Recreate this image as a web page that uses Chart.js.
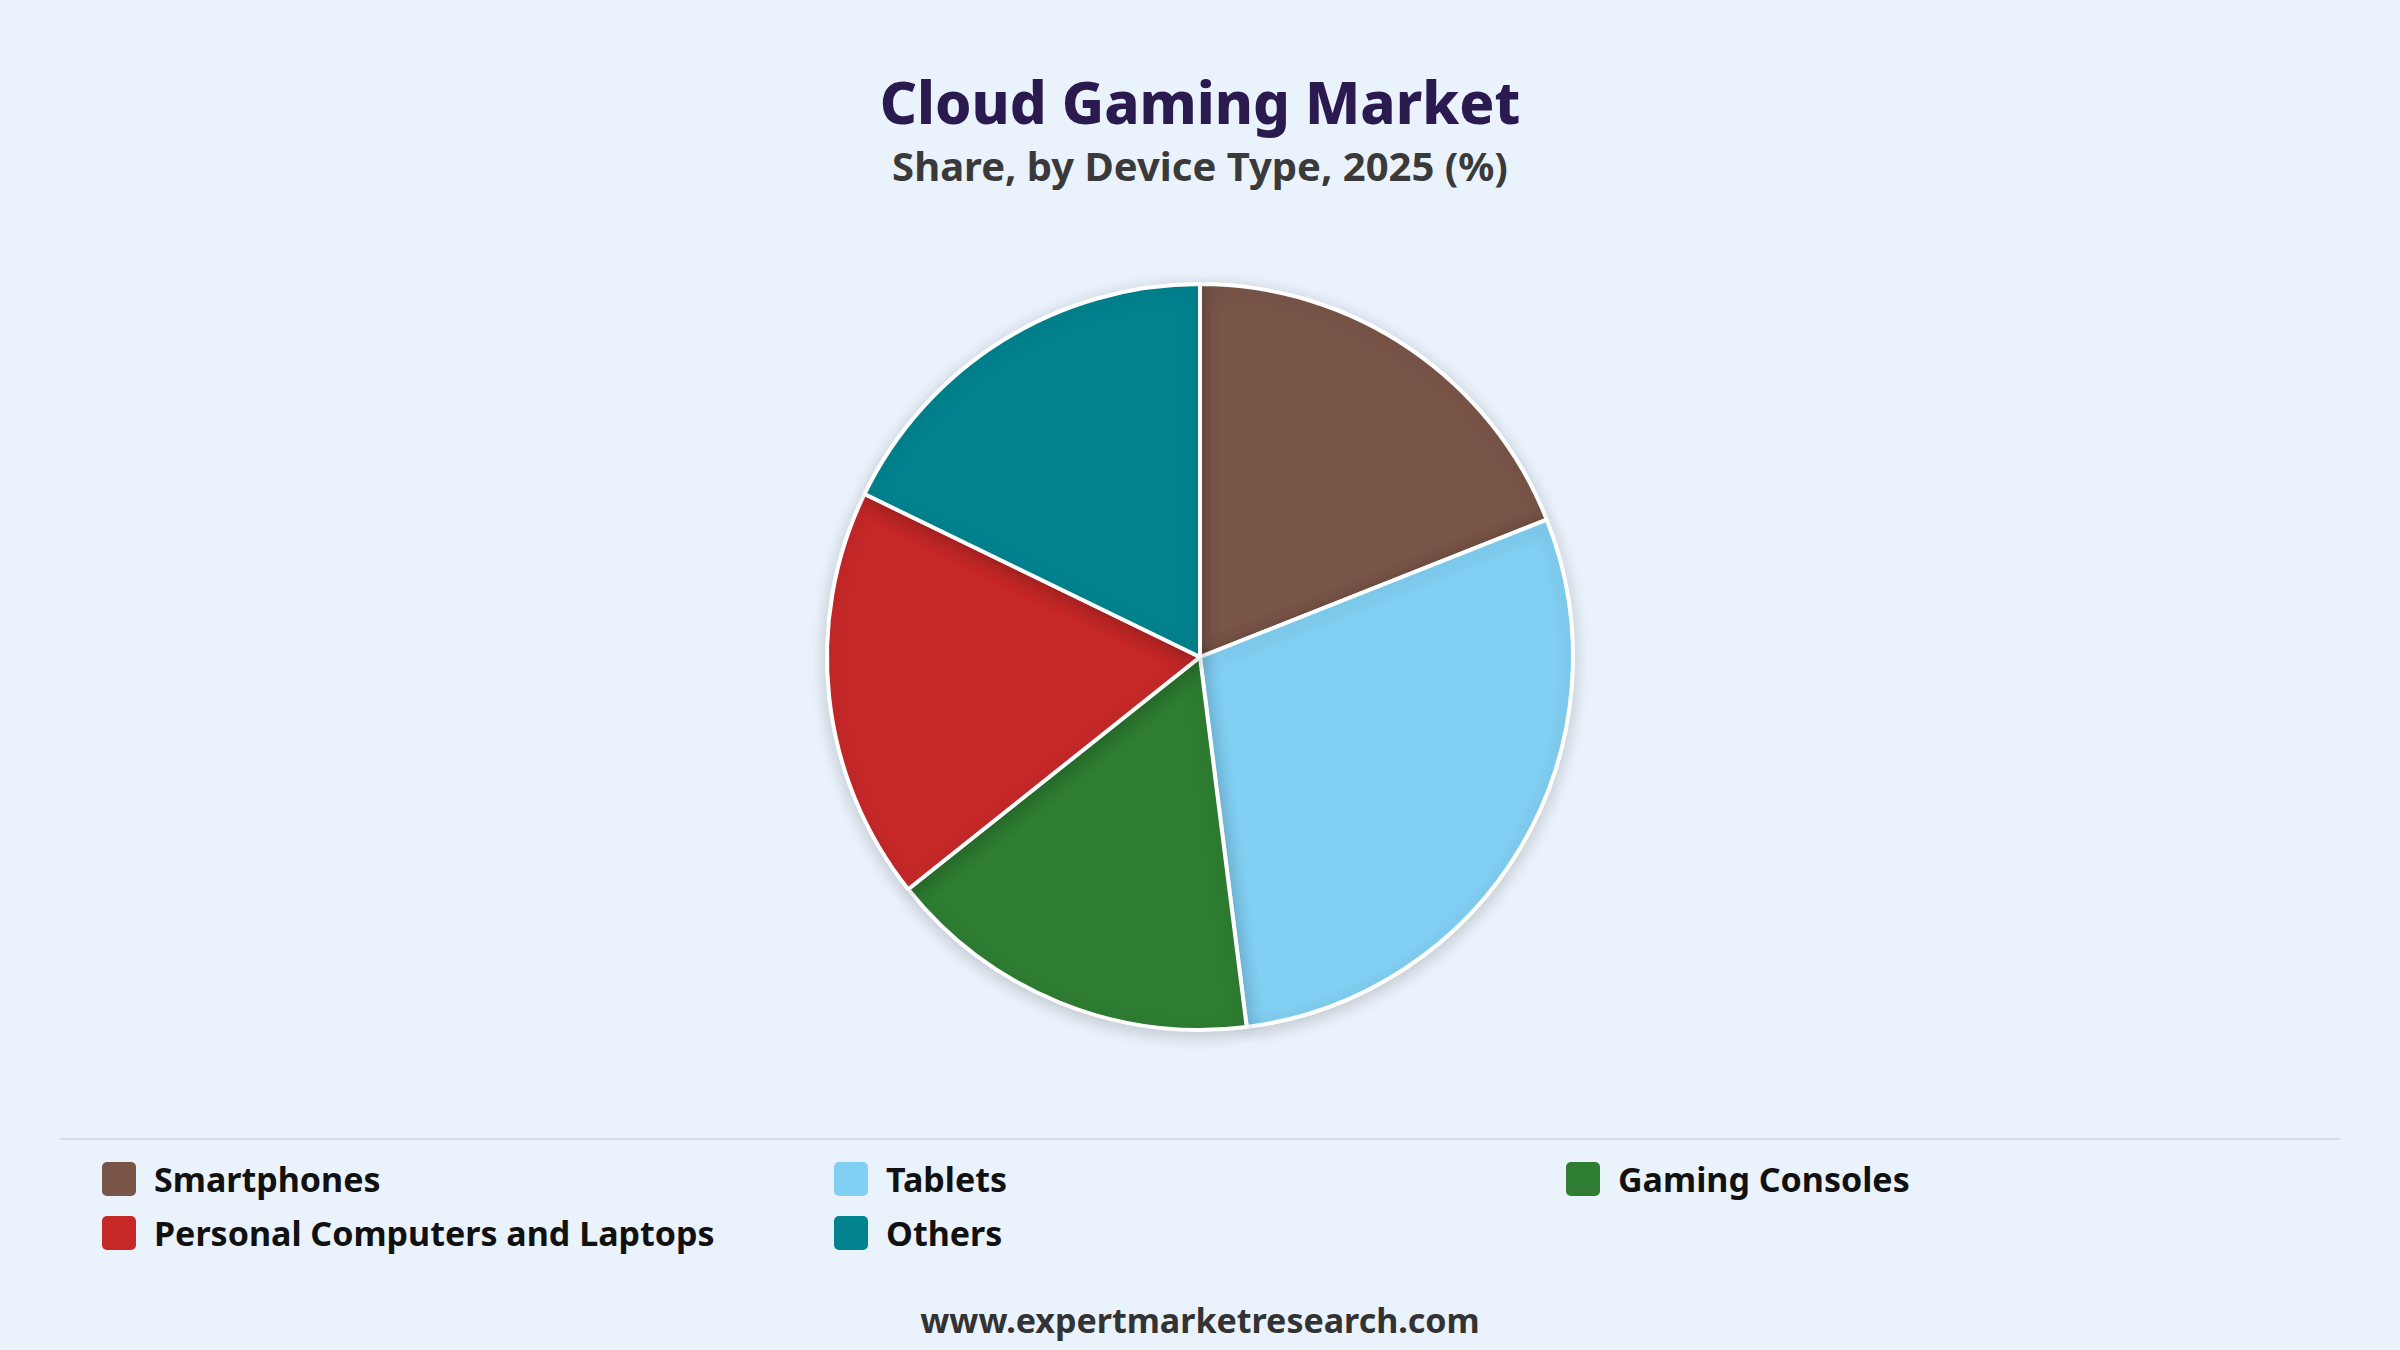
<!DOCTYPE html>
<html><head><meta charset="utf-8">
<script src="https://cdn.jsdelivr.net/npm/chart.js@4"></script>
<style>
html,body{margin:0;padding:0;background:#EAF2FB;width:2400px;height:1350px;overflow:hidden;font-family:"Noto Sans","Open Sans",sans-serif;}
#title{position:absolute;top:62px;width:2400px;text-align:center;font-size:58px;font-weight:800;color:#2B1A4F;}
#sub{position:absolute;top:138px;width:2400px;text-align:center;font-size:40px;font-weight:700;color:#3a3a3a;}
#wrap{position:absolute;left:800px;top:257px;width:800px;height:800px;}
#sep{position:absolute;left:60px;top:1138px;width:2280px;height:2px;background:#d8dde3;}
.li{position:absolute;font-size:34px;font-weight:700;color:#111;display:flex;align-items:center;}
.sw{width:34px;height:34px;border-radius:5px;margin-right:18px;}
#foot{position:absolute;top:1297px;width:2400px;text-align:center;font-size:34px;font-weight:700;color:#333;}
</style></head><body>
<div id="title">Cloud Gaming Market</div>
<div id="sub">Share, by Device Type, 2025 (%)</div>
<div id="wrap"><canvas id="c"></canvas></div>
<div id="sep"></div>
<div id="legend"></div>
<div id="foot">www.expertmarketresearch.com</div>
<script>
const categories = ["Smartphones","Tablets","Gaming Consoles","Personal Computers and Laptops","Others"];
const shares = [19, 29, 16.3, 17.9, 17.8];
const colors = ["#795548","#81CFF2","#2E7D32","#C62828","#00838F"];

const lg = document.getElementById('legend');
categories.forEach((c,i)=>{
  const d=document.createElement('div');d.className='li';
  d.style.left=(102+(i%3)*732)+'px';d.style.top=(1156+Math.floor(i/3)*54)+'px';
  d.innerHTML='<div class="sw" style="background:'+colors[i]+'"></div>'+c;
  lg.appendChild(d);
});

const shadow={id:'shadow',beforeDatasetsDraw(ch){const x=ch.ctx;x.save();x.shadowColor='rgba(0,0,0,0.18)';x.shadowBlur=18;x.shadowOffsetY=4;},afterDatasetsDraw(ch){ch.ctx.restore();}};
new Chart(document.getElementById('c'),{
  type:'pie',
  data:{labels:categories,datasets:[{data:shares,backgroundColor:colors,borderColor:'#fff',borderWidth:4}]},
  options:{responsive:true,maintainAspectRatio:false,animation:false,layout:{padding:25},
    plugins:{legend:{display:false},tooltip:{enabled:false}}},
  plugins:[shadow]
});
</script></body></html>
